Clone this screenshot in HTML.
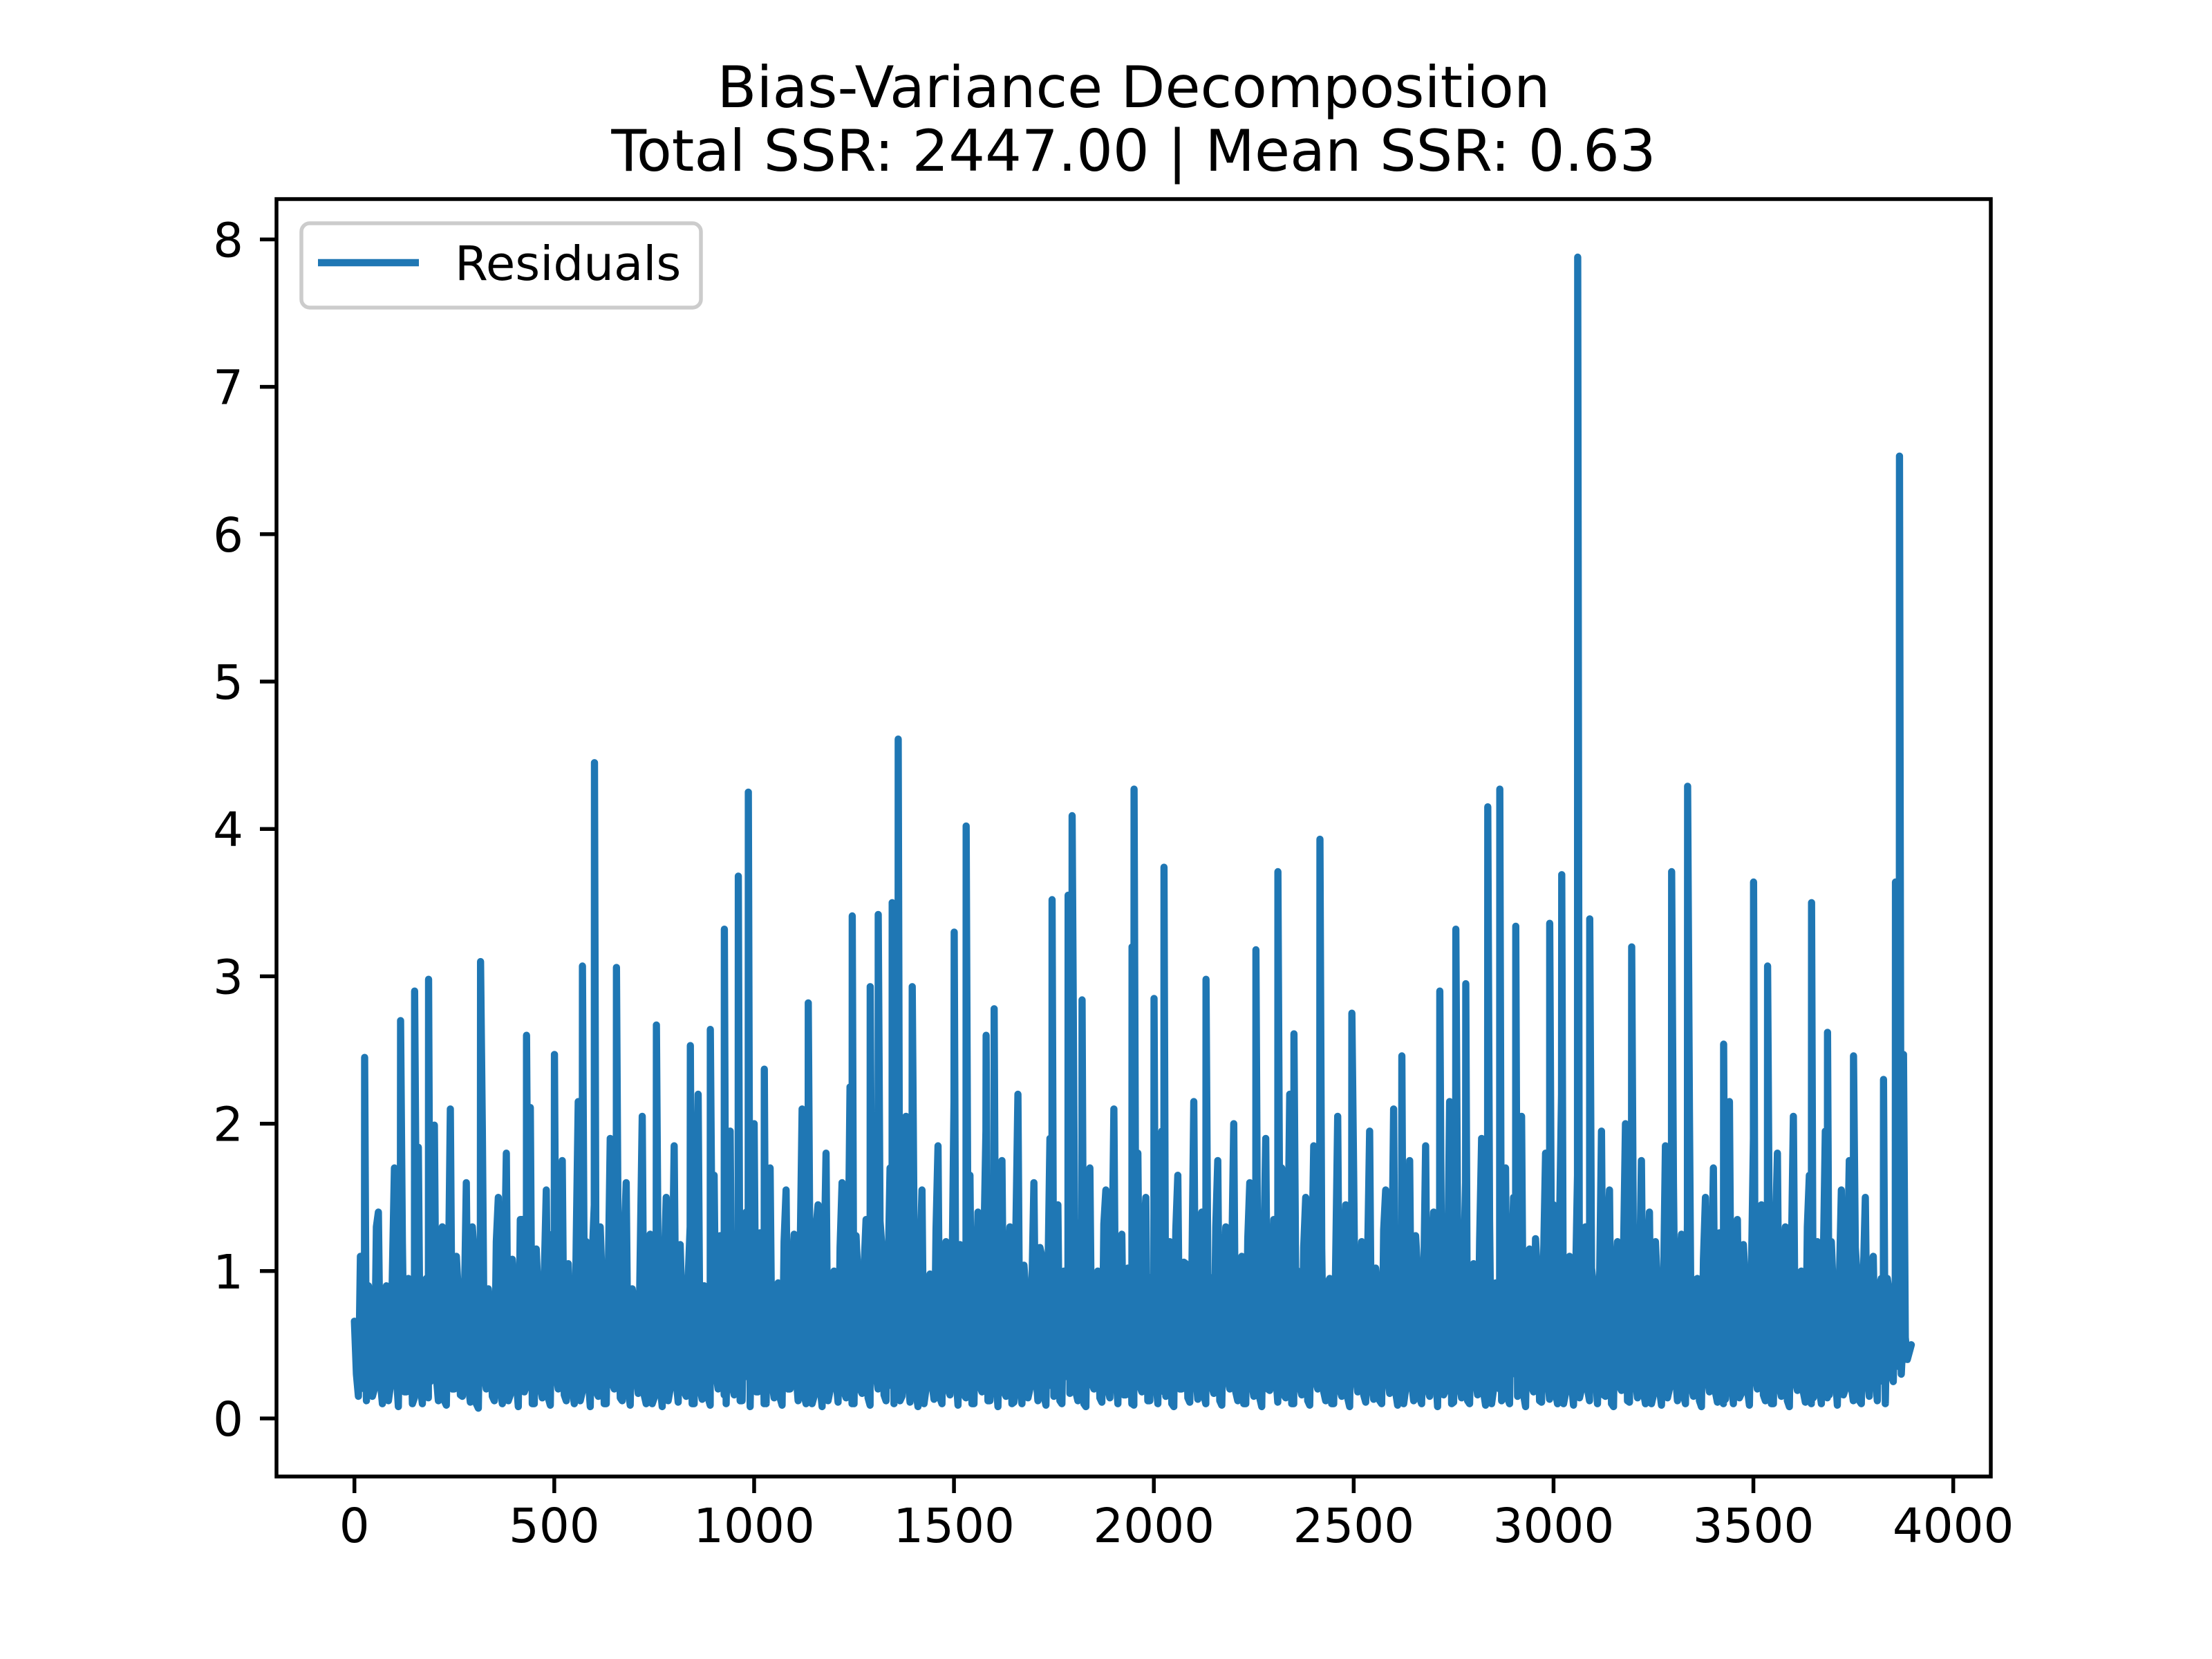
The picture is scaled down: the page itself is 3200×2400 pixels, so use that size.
<!DOCTYPE html>
<html><head><meta charset="utf-8"><style>
html,body{margin:0;padding:0;background:#fff;}
svg{display:block;font-family:"DejaVu Sans","Liberation Sans",sans-serif;}
</style></head><body>
<svg id="chart" width="3200" height="2400" viewBox="0 0 3200 2400" xmlns="http://www.w3.org/2000/svg">
<rect width="3200" height="2400" fill="#fff"/>
<text x="1640" y="155" font-size="83" text-anchor="middle" fill="#000">Bias-Variance Decomposition</text>
<text x="1640" y="247" font-size="83" text-anchor="middle" fill="#000">Total SSR: 2447.00 | Mean SSR: 0.63</text>
<defs><clipPath id="plotclip"><rect x="400" y="288" width="2480" height="1848"/></clipPath></defs>
<g id="series" clip-path="url(#plotclip)"></g>
<g id="xaxis"></g>
<g id="yaxis"></g>
<rect x="400" y="288" width="2480" height="1848" fill="none" stroke="#000" stroke-width="5.5"/>
<g>
<rect x="436" y="323" width="578" height="122" rx="12" fill="#fff" fill-opacity="0.8" stroke="#ccc" stroke-width="5.5"/>
<line x1="460" y1="380" x2="606" y2="380" stroke="#1f77b4" stroke-width="10.4"/>
<text x="658" y="405" font-size="69" fill="#000">Residuals</text>
</g>
</svg>
<script>
const N = 3900;
const xTicks = [0,500,1000,1500,2000,2500,3000,3500,4000];
const yTicks = [0,1,2,3,4,5,6,7,8];
const baseStride = 10;
const baseValues = [
0.66,0.15,1.02,0.12,0.84,0.2,1.4,0.1,0.9,0.22,1.7,0.08,1.2,0.18,0.75,0.14,1.84,0.1,0.95,0.25,
1.99,0.12,1.3,0.09,2.1,0.2,0.85,0.15,1.6,0.11,1.1,0.07,1.95,0.2,0.7,0.12,1.5,0.1,1.8,0.16,
0.9,0.08,1.35,0.22,2.11,0.1,0.8,0.14,1.55,0.09,1.0,0.2,1.75,0.12,0.65,0.1,2.15,0.18,1.2,0.08,
1.45,0.15,0.9,0.1,1.9,0.2,1.05,0.12,1.6,0.09,0.78,0.17,2.05,0.1,1.25,0.14,0.95,0.08,1.5,0.2,
1.85,0.11,0.7,0.15,1.3,0.1,2.2,0.13,0.88,0.09,1.65,0.2,1.15,0.1,1.95,0.16,0.8,0.12,1.4,0.08,
2.0,0.18,1.1,0.1,1.7,0.14,0.92,0.09,1.55,0.2,1.25,0.12,2.1,0.1,0.85,0.15,1.45,0.08,1.8,0.19,
1.0,0.11,1.6,0.14,2.25,0.1,0.95,0.17,1.35,0.09,1.9,0.2,1.15,0.12,1.7,0.1,0.88,0.15,2.05,0.11,
1.3,0.08,1.55,0.2,0.98,0.13,1.85,0.1,1.2,0.16,2.15,0.09,0.9,0.14,1.65,0.1,1.4,0.18,1.95,0.12,
1.05,0.08,1.75,0.15,1.3,0.11,2.2,0.1,0.85,0.2,1.6,0.12,1.1,0.09,1.9,0.15,1.45,0.1,0.95,0.17,
2.05,0.12,1.35,0.08,1.7,0.2,1.0,0.11,1.55,0.14,2.1,0.1,1.25,0.16,0.9,0.09,1.8,0.18,1.5,0.12,
0.8,0.1,1.95,0.15,1.2,0.08,1.65,0.2,1.05,0.11,2.15,0.13,1.4,0.1,0.92,0.17,1.75,0.09,1.3,0.2,
2.0,0.12,1.1,0.1,1.6,0.15,0.85,0.08,1.9,0.19,1.35,0.11,1.7,0.14,2.2,0.1,1.0,0.16,1.5,0.09,
1.85,0.2,1.15,0.12,0.95,0.1,2.05,0.15,1.45,0.08,1.65,0.18,1.2,0.11,1.95,0.13,0.88,0.1,1.55,0.17,
2.1,0.09,1.3,0.2,1.75,0.12,1.0,0.1,1.85,0.15,1.4,0.08,0.9,0.19,2.15,0.11,1.25,0.14,1.6,0.1,
1.05,0.16,1.9,0.09,1.35,0.2,0.82,0.12,1.7,0.1,1.5,0.15,2.05,0.08,1.15,0.18,0.95,0.11,1.8,0.13,
1.45,0.1,2.2,0.17,1.1,0.09,1.65,0.2,1.3,0.12,0.9,0.1,1.95,0.15,1.55,0.08,1.2,0.19,2.0,0.11,
1.0,0.14,1.75,0.1,1.4,0.16,0.88,0.09,1.85,0.2,1.6,0.12,1.25,0.1,2.1,0.15,0.95,0.08,1.5,0.18,
1.7,0.11,1.15,0.13,2.15,0.1,1.35,0.17,0.92,0.09,1.9,0.2,1.45,0.12,1.05,0.1,1.8,0.15,1.3,0.08,
2.05,0.19,1.0,0.11,1.65,0.14,1.2,0.1,1.95,0.16,0.85,0.09,1.55,0.2,1.75,0.12,0.95,0.1,1.5,0.15,
1.1,0.12,0.95,0.1,0.85,0.25,0.9,0.3,0.55
];
const midValues = [
0.3,1.1,0.2,0.9,0.15,1.3,0.25,0.8,0.12,1.0,0.3,1.2,0.18,0.95,0.1,1.15,0.22,0.85,0.14,1.05,
0.28,1.25,0.12,0.9,0.2,1.1,0.16,0.75,0.24,1.3,0.1,1.0,0.3,0.88,0.15,1.2,0.2,0.95,0.12,1.08,
0.26,1.35,0.18,0.82,0.1,1.15,0.22,0.98,0.14,1.25,0.3,0.9,0.16,1.05,0.2,1.2,0.12,0.85,0.28,1.1,
0.18,1.3,0.1,0.95,0.24,1.0,0.14,1.22,0.2,0.88,0.3,1.12,0.16,0.92,0.1,1.28,0.22,1.02,0.12,0.86,
0.26,1.18,0.18,0.96,0.1,1.32,0.2,0.9,0.14,1.06,0.3,1.24,0.16,0.84,0.22,1.14,0.12,1.0,0.28,0.94,
0.18,1.26,0.1,1.08,0.24,0.88,0.14,1.2,0.2,0.98,0.3,1.1,0.16,0.9,0.1,1.3,0.22,1.04,0.12,0.86,
0.26,1.16,0.18,0.92,0.1,1.24,0.2,1.02,0.14,0.88,0.3,1.34,0.16,0.96,0.22,1.12,0.12,0.84,0.28,1.2,
0.18,1.06,0.1,0.94,0.24,1.28,0.14,1.0,0.2,0.9,0.3,1.18,0.16,1.08,0.1,0.86,0.22,1.22,0.12,0.98,
0.26,1.1,0.18,0.92,0.1,1.3,0.2,1.04,0.14,0.88,0.3,1.16,0.16,0.96,0.22,1.26,0.12,1.0,0.28,0.9,
0.18,1.2,0.1,1.08,0.24,0.86,0.14,1.32,0.2,0.94,0.3,1.12,0.16,1.02,0.1,0.88,0.22,1.24,0.12,0.96,
0.26,1.14,0.18,0.9,0.1,1.28,0.2,1.06,0.14,0.92,0.3,1.18,0.16,0.98,0.22,1.3,0.12,0.86,0.28,1.1,
0.18,1.0,0.1,1.22,0.24,0.94,0.14,1.12,0.2,0.88,0.3,1.26,0.16,1.04,0.1,0.9,0.22,1.16,0.12,1.0,
0.26,1.34,0.18,0.92,0.1,1.08,0.2,0.96,0.14,1.2,0.3,0.86,0.16,1.14,0.22,1.02,0.12,1.28,0.28,0.9,
0.18,1.1,0.1,0.98,0.24,1.24,0.14,0.88,0.2,1.06,0.3,1.18,0.16,0.94,0.1,1.3,0.22,1.0,0.12,0.86,
0.26,1.2,0.18,1.04,0.1,0.92,0.2,1.26,0.14,0.98,0.3,1.12,0.16,0.88,0.22,1.22,0.12,1.08,0.28,0.94,
0.18,1.3,0.1,1.0,0.24,0.9,0.14,1.16,0.2,1.02,0.3,0.86,0.16,1.24,0.1,0.96,0.22,1.1,0.12,1.28,
0.26,0.92,0.18,1.06,0.1,1.2,0.2,0.88,0.14,1.14,0.3,1.0,0.16,1.32,0.22,0.94,0.12,1.08,0.28,0.9,
0.18,1.26,0.1,1.04,0.24,0.86,0.14,1.18,0.2,0.98,0.3,1.12,0.16,0.9,0.1,1.24,0.22,1.0,0.12,1.1,
0.26,0.94,0.18,1.3,0.1,0.88,0.2,1.06,0.14,1.2,0.3,0.92,0.16,1.02,0.22,1.16,0.12,0.96,0.28,1.0,
0.3,0.9,0.25,0.95,0.3,0.85,0.35,0.6,0.4,0.5
];
const spikeIdx = [25,115,150,185,315,430,500,570,600,655,755,840,890,925,960,985,1025,1135,1245,1290,1310,1345,1360,1395,1500,1530,1580,1600,1745,1785,1795,1820,1945,1950,2000,2025,2130,2255,2310,2350,2415,2495,2620,2715,2755,2780,2835,2865,2905,2990,3020,3060,3090,3195,3295,3335,3425,3500,3535,3645,3685,3750,3825,3855,3865,3875];
const spikeVals = [2.45,2.7,2.9,2.98,3.1,2.6,2.47,3.07,4.45,3.06,2.67,2.53,2.64,3.32,3.68,4.25,2.37,2.82,3.41,2.93,3.42,3.5,4.61,2.93,3.3,4.02,2.6,2.78,3.52,3.55,4.09,2.84,3.2,4.27,2.85,3.74,2.98,3.18,3.71,2.61,3.93,2.75,2.46,2.9,3.32,2.95,4.15,4.27,3.34,3.36,3.69,7.88,3.39,3.2,3.71,4.29,2.54,3.64,3.07,3.5,2.62,2.46,2.3,3.64,6.53,2.47];

const X0 = 400, X1 = 2880, Y0 = 2136, Y1 = 288;
const xmin = -(N-1)*0.05, xmax = (N-1)*1.05;
const ymin = -0.394, ymax = 8.274;
function sx(v){ return X0 + (v - xmin) / (xmax - xmin) * (X1 - X0); }
function sy(v){ return Y0 - (v - ymin) / (ymax - ymin) * (Y0 - Y1); }
const NS = "http://www.w3.org/2000/svg";

const pts = [];
baseValues.forEach((v,i) => { const ix = i*baseStride; if (ix <= N-1) pts.push([ix, v]); });
midValues.forEach((v,i) => { const ix = i*baseStride + 5; if (ix <= N-1) pts.push([ix, v]); });
spikeIdx.forEach((ix,i) => pts.push([ix + 0.5, spikeVals[i]]));
pts.sort((a,b) => a[0]-b[0]);
let d = "";
pts.forEach((p,i) => { d += (i ? "L" : "M") + sx(p[0]).toFixed(1) + " " + sy(p[1]).toFixed(1); });
const path = document.createElementNS(NS, "path");
path.setAttribute("d", d);
path.setAttribute("fill", "none");
path.setAttribute("stroke", "#1f77b4");
path.setAttribute("stroke-width", "10.4");
path.setAttribute("stroke-linejoin", "round");
path.setAttribute("stroke-linecap", "round");


document.getElementById("series").appendChild(path);

const xg = document.getElementById("xaxis");
xTicks.forEach(t => {
  const x = sx(t);
  const ln = document.createElementNS(NS, "line");
  ln.setAttribute("x1", x); ln.setAttribute("x2", x);
  ln.setAttribute("y1", Y0); ln.setAttribute("y2", Y0 + 24);
  ln.setAttribute("stroke", "#000"); ln.setAttribute("stroke-width", "5.5");
  
  
  xg.appendChild(ln);
  const tx = document.createElementNS(NS, "text");
  tx.setAttribute("x", x); tx.setAttribute("y", Y0 + 95);
  tx.setAttribute("font-size", "69"); tx.setAttribute("text-anchor", "middle");
  tx.textContent = t;
  
  
  xg.appendChild(tx);
});
const yg = document.getElementById("yaxis");
yTicks.forEach(t => {
  const y = sy(t);
  const ln = document.createElementNS(NS, "line");
  ln.setAttribute("x1", X0 - 24); ln.setAttribute("x2", X0);
  ln.setAttribute("y1", y); ln.setAttribute("y2", y);
  ln.setAttribute("stroke", "#000"); ln.setAttribute("stroke-width", "5.5");
  
  
  yg.appendChild(ln);
  const tx = document.createElementNS(NS, "text");
  tx.setAttribute("x", X0 - 48); tx.setAttribute("y", y + 25);
  tx.setAttribute("font-size", "69"); tx.setAttribute("text-anchor", "end");
  tx.textContent = t;
  
  
  yg.appendChild(tx);
});
</script>
</body></html>
